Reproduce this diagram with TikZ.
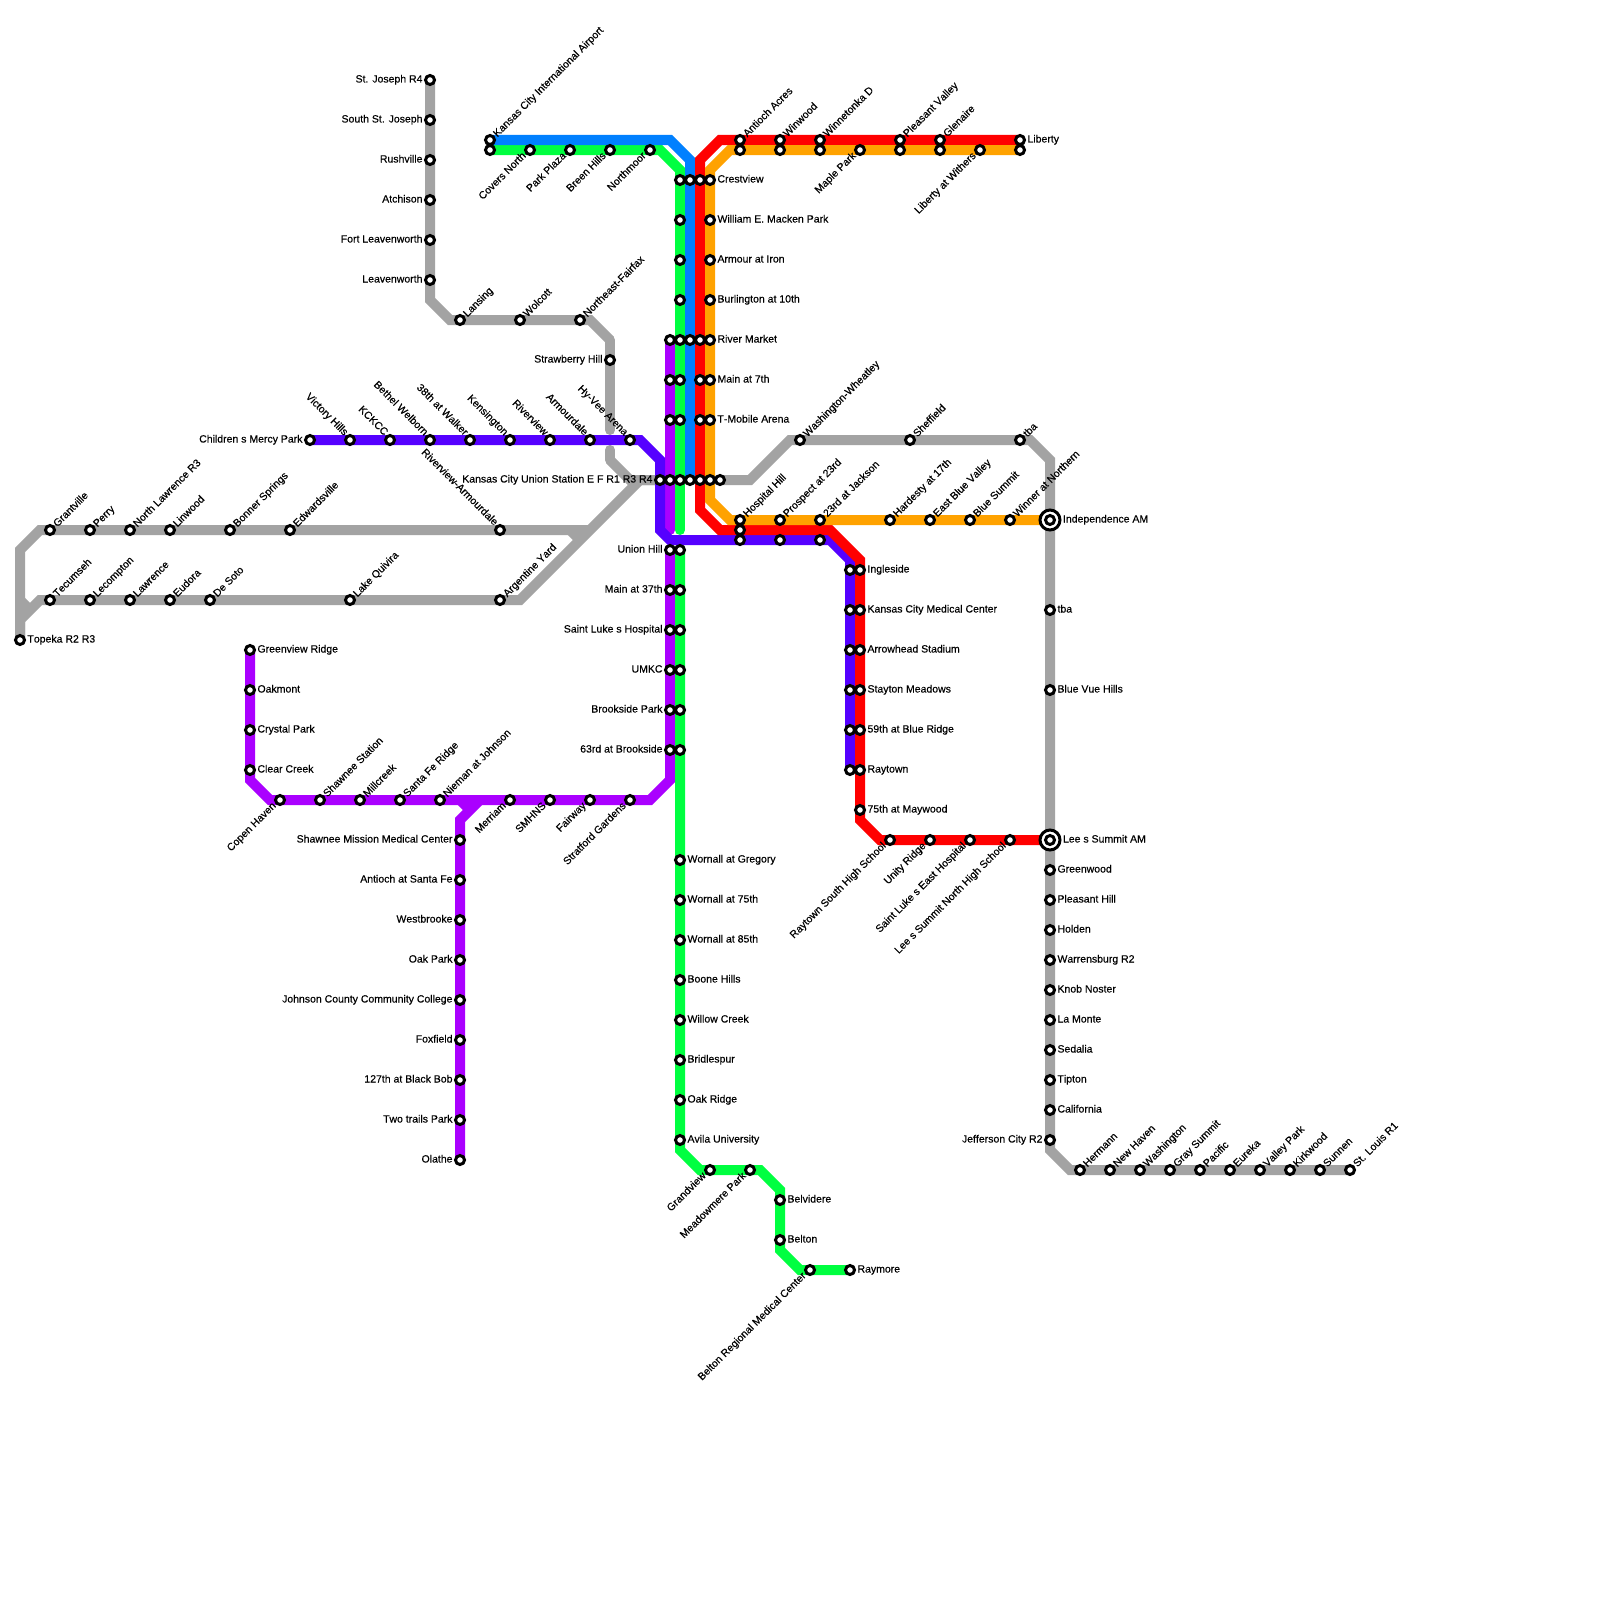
\documentclass[tikz,border=0pt]{standalone}
\usepackage{fontspec}
\setmainfont[FakeBold=0.35,Kerning=Off]{Liberation Sans}
\usetikzlibrary{backgrounds}
\definecolor{lineGray}{HTML}{A3A3A3}
\definecolor{lineGreen}{HTML}{00FF40}
\definecolor{lineBlue}{HTML}{0080FF}
\definecolor{lineRed}{HTML}{FF0000}
\definecolor{lineOrange}{HTML}{FFA200}
\definecolor{linePurple}{HTML}{AA00FF}
\definecolor{lineIndigo}{HTML}{5500FF}
\tikzset{
  rail/.style={line width=10pt, line join=miter, color=#1},
  railend/.style={rail=#1, line cap=round},
  lbl/.style={font=\fontsize{10.5}{10.5}\selectfont, inner sep=0pt, outer sep=0pt, text height=7pt, text depth=2pt, label distance=1.5pt},
  stn/.style={circle, draw=black, fill=white, line width=3pt, minimum size=9pt, inner sep=0pt},
  hubring/.style={circle, draw=black, fill=white, line width=3pt, minimum size=20pt, inner sep=0pt},
  lbR/.style={label={[lbl, anchor=west]0:#1}},
  lbL/.style={label={[lbl, anchor=east]180:#1}},
  lbUR/.style={label={[lbl, rotate=45, yshift=-2pt, anchor=west]45:#1}},
  lbUL/.style={label={[lbl, rotate=-45, anchor=east]135:#1}},
  lbDL/.style={label={[lbl, rotate=45, yshift=1.5pt, anchor=east]225:#1}},
}
\begin{document}
\begin{tikzpicture}[x=10pt, y=-10pt]
\path[use as bounding box] (0,0) rectangle (160,160);
% gray, north branch
\node[stn, lbL={St. Joseph R4}] (stjoseph) at (43,8) {};
\node[stn, lbL={South St. Joseph}] (southstjoseph) at (43,12) {};
\node[stn, lbL={Rushville}] (rushville) at (43,16) {};
\node[stn, lbL={Atchison}] (atchison) at (43,20) {};
\node[stn, lbL={Fort Leavenworth}] (fortleaven) at (43,24) {};
\node[stn, lbL={Leavenworth}] (leavenworth) at (43,28) {};
\node[stn, lbUR={Lansing}] (lansing) at (46,32) {};
\node[stn, lbUR={Wolcott}] (wolcott) at (52,32) {};
\node[stn, lbUR={Northeast-Fairfax}] (nefairfax) at (58,32) {};
\node[stn, lbL={Strawberry Hill}] (strawberry) at (61,36) {};
% gray, west branches
\node[stn, lbR={Topeka R2 R3}] (topeka) at (2,64) {};
\node[stn, lbUR={Grantville}] (grantville) at (5,53) {};
\node[stn, lbUR={Perry}] (perry) at (9,53) {};
\node[stn, lbUR={North Lawrence R3}] (northlawrence) at (13,53) {};
\node[stn, lbUR={Linwood}] (linwood) at (17,53) {};
\node[stn, lbUR={Bonner Springs}] (bonner) at (23,53) {};
\node[stn, lbUR={Edwardsville}] (edwardsville) at (29,53) {};
\node[stn, lbUL={Riverview-Armourdale}] (rivarmourdale) at (50,53) {};
\node[stn, lbUR={Tecumseh}] (tecumseh) at (5,60) {};
\node[stn, lbUR={Lecompton}] (lecompton) at (9,60) {};
\node[stn, lbUR={Lawrence}] (lawrence) at (13,60) {};
\node[stn, lbUR={Eudora}] (eudora) at (17,60) {};
\node[stn, lbUR={De Soto}] (desoto) at (21,60) {};
\node[stn, lbUR={Lake Quivira}] (quivira) at (35,60) {};
\node[stn, lbUR={Argentine Yard}] (argentine) at (50,60) {};
% gray, east branch
\node[stn, lbUR={Washington-Wheatley}] (wheatley) at (80,44) {};
\node[stn, lbUR={Sheffield}] (sheffield) at (91,44) {};
\node[stn, lbUR={tba}] (tbaN) at (102,44) {};
\node[stn, lbR={tba}] (tbaS) at (105,61) {};
\node[stn, lbR={Blue Vue Hills}] (bluevue) at (105,69) {};
\node[stn, lbR={Greenwood}] (greenwood) at (105,87) {};
\node[stn, lbR={Pleasant Hill}] (pleasanthill) at (105,90) {};
\node[stn, lbR={Holden}] (holden) at (105,93) {};
\node[stn, lbR={Warrensburg R2}] (warrensburg) at (105,96) {};
\node[stn, lbR={Knob Noster}] (knobnoster) at (105,99) {};
\node[stn, lbR={La Monte}] (lamonte) at (105,102) {};
\node[stn, lbR={Sedalia}] (sedalia) at (105,105) {};
\node[stn, lbR={Tipton}] (tipton) at (105,108) {};
\node[stn, lbR={California}] (california) at (105,111) {};
\node[stn, lbL={Jefferson City R2}] (jefferson) at (105,114) {};
\node[stn, lbUR={Hermann}] (hermann) at (108,117) {};
\node[stn, lbUR={New Haven}] (newhaven) at (111,117) {};
\node[stn, lbUR={Washington}] (washington) at (114,117) {};
\node[stn, lbUR={Gray Summit}] (graysummit) at (117,117) {};
\node[stn, lbUR={Pacific}] (pacific) at (120,117) {};
\node[stn, lbUR={Eureka}] (eureka) at (123,117) {};
\node[stn, lbUR={Valley Park}] (valleypark) at (126,117) {};
\node[stn, lbUR={Kirkwood}] (kirkwood) at (129,117) {};
\node[stn, lbUR={Sunnen}] (sunnen) at (132,117) {};
\node[stn, lbUR={St. Louis R1}] (stlouis) at (135,117) {};
% hubs
\node[hubring, label={[lbl, anchor=west]0:Independence AM}] (independence) at (105,52) {};
\node[stn] (independenceIn) at (105,52) {};
\node[hubring, label={[lbl, anchor=west]0:Lee s Summit AM}] (leessummit) at (105,84) {};
\node[stn] (leessummitIn) at (105,84) {};
% union station row
\node[stn, lbL={Kansas City Union Station E F R1 R3 R4}] (unionA) at (66,48) {};
\node[stn] (unionB) at (67,48) {};
\node[stn] (unionC) at (68,48) {};
\node[stn] (unionD) at (69,48) {};
\node[stn] (unionE) at (70,48) {};
\node[stn] (unionF) at (71,48) {};
\node[stn] (unionG) at (72,48) {};
% purple
\node[stn, lbR={Greenview Ridge}] (greenview) at (25,65) {};
\node[stn, lbR={Oakmont}] (oakmont) at (25,69) {};
\node[stn, lbR={Crystal Park}] (crystalpark) at (25,73) {};
\node[stn, lbR={Clear Creek}] (clearcreek) at (25,77) {};
\node[stn, lbDL={Copen Haven}] (copenhaven) at (28,80) {};
\node[stn, lbUR={Shawnee Station}] (shawnee) at (32,80) {};
\node[stn, lbUR={Millcreek}] (millcreek) at (36,80) {};
\node[stn, lbUR={Santa Fe Ridge}] (santafe) at (40,80) {};
\node[stn, lbUR={Nieman at Johnson}] (nieman) at (44,80) {};
\node[stn, lbDL={Merriam}] (merriam) at (51,80) {};
\node[stn, lbDL={SMHNS}] (smhns) at (55,80) {};
\node[stn, lbDL={Fairway}] (fairway) at (59,80) {};
\node[stn, lbDL={Stratford Gardens}] (stratford) at (63,80) {};
\node[stn, lbL={Shawnee Mission Medical Center}] (smmc) at (46,84) {};
\node[stn, lbL={Antioch at Santa Fe}] (antiochsf) at (46,88) {};
\node[stn, lbL={Westbrooke}] (westbrooke) at (46,92) {};
\node[stn, lbL={Oak Park}] (oakpark) at (46,96) {};
\node[stn, lbL={Johnson County Community College}] (jccc) at (46,100) {};
\node[stn, lbL={Foxfield}] (foxfield) at (46,104) {};
\node[stn, lbL={127th at Black Bob}] (blackbob) at (46,108) {};
\node[stn, lbL={Two trails Park}] (twotrails) at (46,112) {};
\node[stn, lbL={Olathe}] (olathe) at (46,116) {};
\node[stn, lbL={Union Hill}] (unionhillP) at (67,55) {};
\node[stn, lbL={Main at 37th}] (main37P) at (67,59) {};
\node[stn, lbL={Saint Luke s Hospital}] (stlukeP) at (67,63) {};
\node[stn, lbL={UMKC}] (umkcP) at (67,67) {};
\node[stn, lbL={Brookside Park}] (brooksideP) at (67,71) {};
\node[stn, lbL={63rd at Brookside}] (brook63P) at (67,75) {};
\node[stn] (rivermktP) at (67,34) {};
\node[stn] (main7P) at (67,38) {};
\node[stn] (tmobileP) at (67,42) {};
% green
\node[stn, lbDL={Covers North}] (covers) at (53,15) {};
\node[stn, lbDL={Park Plaza}] (parkplaza) at (57,15) {};
\node[stn, lbDL={Breen Hills}] (breen) at (61,15) {};
\node[stn, lbDL={Northmoor}] (northmoor) at (65,15) {};
\node[stn] (airportG) at (49,15) {};
\node[stn] (crestG) at (68,18) {};
\node[stn] (mackenG) at (68,22) {};
\node[stn] (armourG) at (68,26) {};
\node[stn] (burlingG) at (68,30) {};
\node[stn] (rivermktG) at (68,34) {};
\node[stn] (main7G) at (68,38) {};
\node[stn] (tmobileG) at (68,42) {};
\node[stn] (unionhillG) at (68,55) {};
\node[stn] (main37G) at (68,59) {};
\node[stn] (stlukeG) at (68,63) {};
\node[stn] (umkcG) at (68,67) {};
\node[stn] (brooksideG) at (68,71) {};
\node[stn] (brook63G) at (68,75) {};
\node[stn, lbR={Wornall at Gregory}] (wgregory) at (68,86) {};
\node[stn, lbR={Wornall at 75th}] (w75) at (68,90) {};
\node[stn, lbR={Wornall at 85th}] (w85) at (68,94) {};
\node[stn, lbR={Boone Hills}] (boone) at (68,98) {};
\node[stn, lbR={Willow Creek}] (willow) at (68,102) {};
\node[stn, lbR={Bridlespur}] (bridlespur) at (68,106) {};
\node[stn, lbR={Oak Ridge}] (oakridge) at (68,110) {};
\node[stn, lbR={Avila University}] (avila) at (68,114) {};
\node[stn, lbDL={Grandview}] (grandview) at (71,117) {};
\node[stn, lbDL={Meadowmere Park}] (meadowmere) at (75,117) {};
\node[stn, lbR={Belvidere}] (belvidere) at (78,120) {};
\node[stn, lbR={Belton}] (belton) at (78,124) {};
\node[stn, lbDL={Belton Regional Medical Center}] (beltonreg) at (81,127) {};
\node[stn, lbR={Raymore}] (raymore) at (85,127) {};
% blue
\node[stn, lbUR={Kansas City International Airport}] (airportB) at (49,14) {};
\node[stn] (crestB) at (69,18) {};
\node[stn] (rivermktB) at (69,34) {};
% indigo
\node[stn, lbL={Children s Mercy Park}] (mercy) at (31,44) {};
\node[stn, lbUL={Victory Hills}] (victory) at (35,44) {};
\node[stn, lbUL={KCKCC}] (kckcc) at (39,44) {};
\node[stn, lbUL={Bethel Welborn}] (bethel) at (43,44) {};
\node[stn, lbUL={38th at Walker}] (walker) at (47,44) {};
\node[stn, lbUL={Kensington}] (kensington) at (51,44) {};
\node[stn, lbUL={Riverview}] (riverview) at (55,44) {};
\node[stn, lbUL={Armourdale}] (armourdale) at (59,44) {};
\node[stn, lbUL={Hy-Vee Arena}] (hyvee) at (63,44) {};
\node[stn] (hospitalI) at (74,54) {};
\node[stn] (prospectI) at (78,54) {};
\node[stn] (jacksonI) at (82,54) {};
\node[stn] (ingleI) at (85,57) {};
\node[stn] (kcmcI) at (85,61) {};
\node[stn] (arrowI) at (85,65) {};
\node[stn] (staytonI) at (85,69) {};
\node[stn] (br59I) at (85,73) {};
\node[stn] (raytownI) at (85,77) {};
% red
\node[stn] (crestR) at (70,18) {};
\node[stn] (rivermktR) at (70,34) {};
\node[stn] (main7R) at (70,38) {};
\node[stn] (tmobileR) at (70,42) {};
\node[stn] (hospitalR) at (74,53) {};
\node[stn, lbR={Ingleside}] (ingleR) at (86,57) {};
\node[stn, lbR={Kansas City Medical Center}] (kcmcR) at (86,61) {};
\node[stn, lbR={Arrowhead Stadium}] (arrowR) at (86,65) {};
\node[stn, lbR={Stayton Meadows}] (staytonR) at (86,69) {};
\node[stn, lbR={59th at Blue Ridge}] (br59R) at (86,73) {};
\node[stn, lbR={Raytown}] (raytownR) at (86,77) {};
\node[stn, lbR={75th at Maywood}] (maywood) at (86,81) {};
\node[stn, lbDL={Raytown South High School}] (raysouth) at (89,84) {};
\node[stn, lbDL={Unity Ridge}] (unity) at (93,84) {};
\node[stn, lbDL={Saint Luke s East Hospital}] (stlukeeast) at (97,84) {};
\node[stn, lbDL={Lee s Summit North High School}] (leesnorth) at (101,84) {};
\node[stn, lbUR={Antioch Acres}] (antiochR) at (74,14) {};
\node[stn, lbUR={Winwood}] (winwoodR) at (78,14) {};
\node[stn, lbUR={Winnetonka D}] (winnetR) at (82,14) {};
\node[stn, lbUR={Pleasant Valley}] (pleasantR) at (90,14) {};
\node[stn, lbUR={Glenaire}] (glenaireR) at (94,14) {};
\node[stn, lbR={Liberty}] (libertyR) at (102,14) {};
% orange
\node[stn] (antiochO) at (74,15) {};
\node[stn] (winwoodO) at (78,15) {};
\node[stn] (winnetO) at (82,15) {};
\node[stn, lbDL={Maple Park}] (maple) at (86,15) {};
\node[stn] (pleasantO) at (90,15) {};
\node[stn] (glenaireO) at (94,15) {};
\node[stn, lbDL={Liberty at Withers}] (withers) at (98,15) {};
\node[stn] (libertyO) at (102,15) {};
\node[stn, lbR={Crestview}] (crestO) at (71,18) {};
\node[stn, lbR={William E. Macken Park}] (mackenO) at (71,22) {};
\node[stn, lbR={Armour at Iron}] (armourO) at (71,26) {};
\node[stn, lbR={Burlington at 10th}] (burlingO) at (71,30) {};
\node[stn, lbR={River Market}] (rivermktO) at (71,34) {};
\node[stn, lbR={Main at 7th}] (main7O) at (71,38) {};
\node[stn, lbR={T-Mobile Arena}] (tmobileO) at (71,42) {};
\node[stn, lbUR={Hospital Hill}] (hospitalO) at (74,52) {};
\node[stn, lbUR={Prospect at 23rd}] (prospectO) at (78,52) {};
\node[stn, lbUR={23rd at Jackson}] (jacksonO) at (82,52) {};
\node[stn, lbUR={Hardesty at 17th}] (hardesty) at (89,52) {};
\node[stn, lbUR={East Blue Valley}] (eastblue) at (93,52) {};
\node[stn, lbUR={Blue Summit}] (bluesummit) at (97,52) {};
\node[stn, lbUR={Winner at Northern}] (winner) at (101,52) {};
% bends
\coordinate (grayA) at (43,30);
\coordinate (grayB) at (45,32);
\coordinate (grayC) at (59,32);
\coordinate (grayD) at (61,34);
\coordinate (grayE) at (61,43);
\coordinate (grayF) at (61,45);
\coordinate (grayG) at (61,46);
\coordinate (grayH) at (63,48);
\coordinate (grayI) at (2,55);
\coordinate (grayJ) at (4,53);
\coordinate (grayK) at (59,53);
\coordinate (grayL) at (57,53);
\coordinate (grayM) at (58,54);
\coordinate (grayN) at (2,62);
\coordinate (grayO) at (4,60);
\coordinate (grayP) at (52,60);
\coordinate (grayQ) at (64,48);
\coordinate (grayR) at (2,60);
\coordinate (grayS) at (3,61);
\coordinate (grayT) at (75,48);
\coordinate (grayU) at (79,44);
\coordinate (grayV) at (103,44);
\coordinate (grayW) at (105,46);
\coordinate (grayX) at (105,115);
\coordinate (grayY) at (107,117);
\coordinate (purpA) at (25,78);
\coordinate (purpB) at (27,80);
\coordinate (purpC) at (65,80);
\coordinate (purpD) at (67,78);
\coordinate (purpE) at (48,80);
\coordinate (purpF) at (46,82);
\coordinate (purpG) at (46,80);
\coordinate (purpH) at (47,81);
\coordinate (purpI) at (67,53);
\coordinate (grnA) at (66,15);
\coordinate (grnB) at (68,17);
\coordinate (grnC) at (68,53);
\coordinate (grnD) at (68,115);
\coordinate (grnE) at (70,117);
\coordinate (grnF) at (76,117);
\coordinate (grnG) at (78,119);
\coordinate (grnH) at (78,125);
\coordinate (grnI) at (80,127);
\coordinate (bluA) at (67,14);
\coordinate (bluB) at (69,16);
\coordinate (indA) at (64,44);
\coordinate (indB) at (66,46);
\coordinate (indC) at (66,53);
\coordinate (indD) at (67,54);
\coordinate (indE) at (83,54);
\coordinate (indF) at (85,56);
\coordinate (redA) at (72,14);
\coordinate (redB) at (70,16);
\coordinate (redC) at (70,51);
\coordinate (redD) at (72,53);
\coordinate (redE) at (83,53);
\coordinate (redF) at (86,56);
\coordinate (redG) at (86,82);
\coordinate (redH) at (88,84);
\coordinate (orgA) at (73,15);
\coordinate (orgB) at (71,17);
\coordinate (orgC) at (71,50);
\coordinate (orgD) at (73,52);
% the lines go under the stations
\begin{scope}[on background layer]
\fill[white] (0,0) rectangle (160,160);
\draw[rail=lineGray] (stjoseph.center) -- (grayA) -- (grayB) -- (grayC) -- (grayD);
\draw[railend=lineGray] (grayD) -- (grayE);
\draw[railend=lineGray] (grayF) -- (grayG);
\draw[rail=lineGray] (grayG) -- (grayH) -- (unionA.center);
\draw[rail=lineGray] (topeka.center) -- (grayI) -- (grayJ) -- (grayK);
\draw[rail=lineGray] (grayL) -- (grayM);
\draw[rail=lineGray] (topeka.center) -- (grayN) -- (grayO) -- (grayP) -- (grayQ) -- (unionA.center);
\draw[rail=lineGray] (grayR) -- (grayS);
\draw[rail=lineGray] (unionG.center) -- (grayT) -- (grayU) -- (grayV) -- (grayW) -- (grayX) -- (grayY) -- (stlouis.center);
\draw[rail=linePurple] (greenview.center) -- (purpA) -- (purpB) -- (purpC) -- (purpD) -- (unionhillP.center);
\draw[rail=linePurple] (olathe.center) -- (purpF) -- (purpE);
\draw[rail=linePurple] (purpG) -- (purpH);
\draw[railend=linePurple] (rivermktP.center) -- (purpI);
\draw[rail=lineGreen] (airportG.center) -- (grnA) -- (grnB) -- (crestG.center) -- (rivermktG.center);
\draw[railend=lineGreen] (rivermktG.center) -- (grnC);
\draw[rail=lineGreen] (unionhillG.center) -- (grnD) -- (grnE) -- (grnF) -- (grnG) -- (grnH) -- (grnI) -- (raymore.center);
\draw[rail=lineIndigo] (mercy.center) -- (indA) -- (indB) -- (indC) -- (indD) -- (indE) -- (indF) -- (raytownI.center);
\draw[rail=lineBlue] (airportB.center) -- (bluA) -- (bluB) -- (unionD.center);
\draw[rail=lineRed] (libertyR.center) -- (redA) -- (redB) -- (redC) -- (redD) -- (redE) -- (redF) -- (redG) -- (redH) -- (leessummit.center);
\draw[rail=lineOrange] (libertyO.center) -- (orgA) -- (orgB) -- (orgC) -- (orgD) -- (independence.center);
\end{scope}
\end{tikzpicture}
\end{document}
